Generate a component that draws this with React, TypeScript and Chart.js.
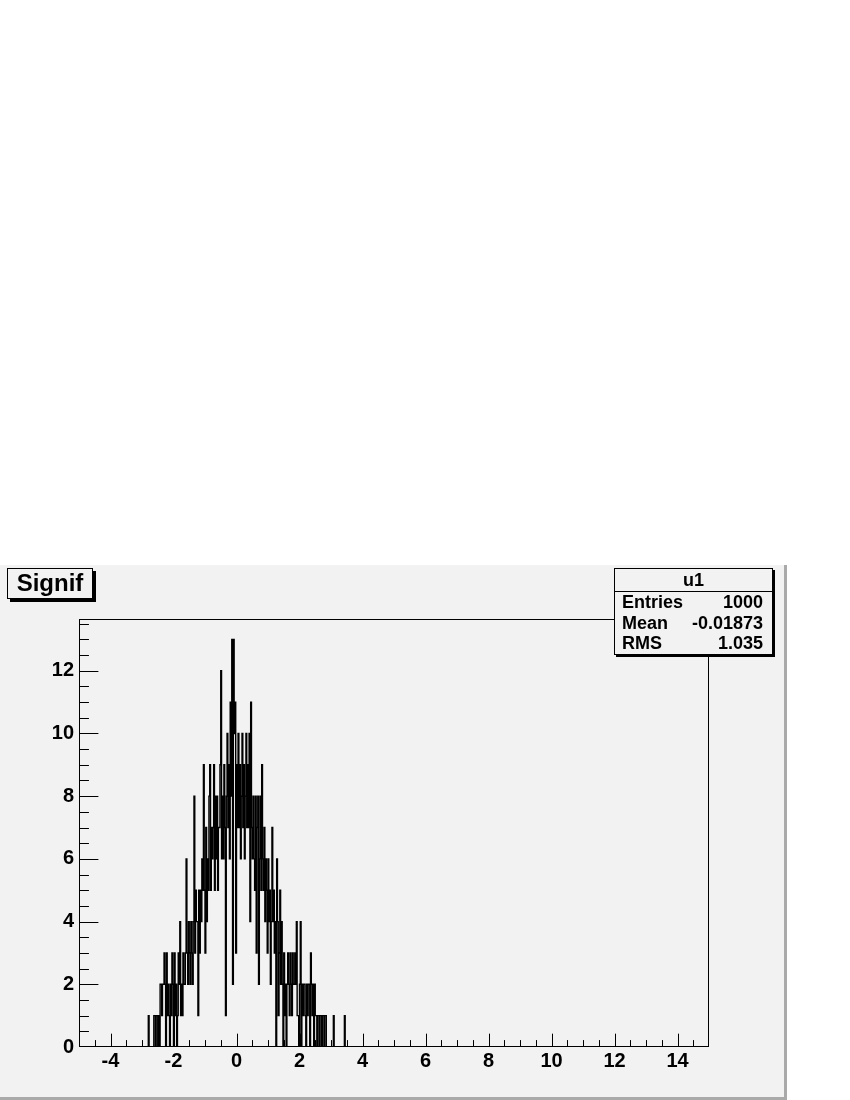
import React, { useEffect, useRef } from "react";
import { Chart, registerables } from "chart.js";

Chart.register(...registerables);

// ---- data ----
const histTitle = "Signif";
const histName = "u1";
const statsLabels = ["Entries", "Mean", "RMS"];
const statsValues = ["1000", "-0.01873", "1.035"];

const X_MIN = -5;
const X_MAX = 15;
const Y_MAX = 13.65;
const BIN_START = -2.85;
const BIN_WIDTH = 0.025;

// bin contents, 4 bins per row (0.1 units per row), starting at BIN_START
const binContents: number[] = [
  0, 0, 1, 0,
  0, 0, 0, 0,
  0, 1, 1, 0,
  1, 1, 0, 1,
  0, 2, 2, 1,
  2, 2, 3, 2,
  0, 3, 1, 2,
  1, 0, 2, 1,
  3, 2, 0, 3,
  1, 2, 0, 1,
  3, 2, 4, 1,
  2, 1, 3, 2,
  2, 3, 6, 3,
  2, 4, 3, 2,
  4, 3, 2, 4,
  8, 3, 5, 4,
  4, 1, 5, 3,
  5, 4, 6, 5,
  9, 5, 3, 7,
  4, 6, 5, 8,
  9, 5, 7, 6,
  7, 9, 5, 8,
  6, 8, 5, 7,
  7, 9, 12, 6,
  8, 6, 9, 7,
  1, 8, 10, 7,
  9, 6, 11, 8,
  13, 2, 13, 10,
  11, 3, 9, 7,
  10, 7, 9, 6,
  8, 10, 7, 9,
  6, 8, 10, 7,
  9, 7, 10, 4,
  11, 7, 6, 8,
  6, 5, 8, 3,
  7, 8, 2, 6,
  8, 5, 9, 6,
  5, 7, 4, 6,
  5, 3, 6, 4,
  5, 2, 4, 7,
  4, 5, 3, 4,
  0, 6, 4, 1,
  3, 5, 2, 4,
  2, 0, 3, 1,
  2, 0, 2, 3,
  2, 1, 3, 2,
  1, 3, 2, 2,
  3, 2, 4, 1,
  1, 0, 2, 4,
  0, 2, 1, 2,
  2, 1, 0, 2,
  1, 2, 2, 0,
  3, 2, 1, 2,
  0, 2, 1, 1,
  0, 1, 1, 0,
  1, 1, 0, 1,
  1, 0, 1, 1,
  0, 0, 0, 0,
  0, 0, 0, 0,
  0, 1, 0, 0,
  0, 0, 0, 0,
  0, 0, 0, 0,
  0, 0, 0, 1,
];

const xMajorTicks = [-4, -2, 0, 2, 4, 6, 8, 10, 12, 14];
const yMajorTicks = [0, 2, 4, 6, 8, 10, 12];
const X_MINOR_STEP = 0.5;
const Y_MINOR_STEP = 0.5;

const FONT = "'Liberation Sans', Arial, Helvetica, sans-serif";
const PAD_BG = "#f2f2f2";

const rootPlugin = {
  id: "rootFrame",
  beforeDraw(chart: any) {
    const ctx = chart.ctx;
    ctx.save();
    ctx.fillStyle = "#ffffff";
    ctx.fillRect(0, 0, chart.width, chart.height);
    // ROOT pad
    ctx.fillStyle = PAD_BG;
    ctx.fillRect(0, 565, 785, 532);
    ctx.fillStyle = "#aaaaaa";
    ctx.fillRect(784, 565, 3, 535);
    ctx.fillRect(0, 1097, 787, 3);
    ctx.restore();
  },
  afterDatasetsDraw(chart: any) {
    const ctx = chart.ctx;
    const { left, top, right, bottom } = chart.chartArea;
    const xs = chart.scales.x;
    const ys = chart.scales.y;
    ctx.save();
    ctx.strokeStyle = "#000";
    ctx.lineWidth = 1;
    const L = Math.round(left) + 0.5;
    const T = Math.round(top) + 0.5;
    const R = Math.round(right) - 0.5;
    const B = Math.round(bottom) - 0.5;
    ctx.strokeRect(L, T, R - L, B - T);
    ctx.beginPath();
    const h = bottom - top;
    const w = right - left;
    for (let v = X_MIN + X_MINOR_STEP; v < X_MAX - 1e-9; v += X_MINOR_STEP) {
      const major = xMajorTicks.some((t) => Math.abs(t - v) < 1e-6);
      const len = major ? 0.03 * h : 0.015 * h;
      const px = Math.round(xs.getPixelForValue(v)) + 0.5;
      ctx.moveTo(px, B);
      ctx.lineTo(px, B - len);
    }
    for (let v = Y_MINOR_STEP; v < Y_MAX; v += Y_MINOR_STEP) {
      const major = yMajorTicks.some((t) => Math.abs(t - v) < 1e-6);
      const len = major ? 0.03 * w : 0.015 * w;
      const py = Math.round(ys.getPixelForValue(v)) + 0.5;
      ctx.moveTo(L, py);
      ctx.lineTo(L + len, py);
    }
    ctx.stroke();
    ctx.restore();
  },
};

function buildPoints() {
  const pts: { x: number; y: number }[] = [{ x: X_MIN, y: 0 }];
  binContents.forEach((c, i) => {
    pts.push({ x: BIN_START + i * BIN_WIDTH, y: c });
  });
  pts.push({ x: BIN_START + binContents.length * BIN_WIDTH, y: 0 });
  pts.push({ x: X_MAX, y: 0 });
  return pts;
}

export default function App() {
  const canvasRef = useRef<HTMLCanvasElement | null>(null);

  useEffect(() => {
    const canvas = canvasRef.current;
    if (!canvas) return;
    const chart = new Chart(canvas, {
      type: "line",
      data: {
        datasets: [
          {
            label: histName,
            data: buildPoints(),
            borderColor: "#000",
            borderWidth: 1.4,
            pointRadius: 0,
            fill: false,
            stepped: "before",
            tension: 0,
          } as any,
        ],
      },
      options: {
        responsive: false,
        animation: false,
        devicePixelRatio: 1,
        layout: { padding: { left: 0, top: 619, right: 141, bottom: 0 } },
        plugins: {
          legend: { display: false },
          tooltip: { enabled: false },
          title: { display: false },
        },
        scales: {
          x: {
            type: "linear",
            min: X_MIN,
            max: X_MAX,
            grid: { display: false, drawTicks: false },
            border: { display: false },
            afterBuildTicks: (scale: any) => {
              scale.ticks = xMajorTicks.map((v) => ({ value: v }));
            },
            afterFit: (scale: any) => {
              scale.height = 53;
            },
            ticks: {
              autoSkip: false,
              maxRotation: 0,
              padding: 2,
              color: "#000",
              font: { family: FONT, size: 20, weight: "bold" },
              callback: (v: any) => String(v),
            },
          },
          y: {
            type: "linear",
            min: 0,
            max: Y_MAX,
            grid: { display: false, drawTicks: false },
            border: { display: false },
            afterBuildTicks: (scale: any) => {
              scale.ticks = yMajorTicks.map((v) => ({ value: v }));
            },
            afterFit: (scale: any) => {
              scale.width = 79;
            },
            ticks: {
              autoSkip: false,
              padding: 5,
              color: "#000",
              font: { family: FONT, size: 20, weight: "bold" },
              callback: (v: any) => String(v),
            },
          },
        },
      } as any,
      plugins: [rootPlugin],
    });
    return () => chart.destroy();
  }, []);

  return (
    <div style={{ position: "absolute", left: 0, top: 0, width: 850, height: 1100 }}>
      <canvas ref={canvasRef} width={850} height={1100} style={{ display: "block" }} />
      <div
        style={{
          position: "absolute",
          left: 7,
          top: 568,
          width: 86,
          height: 31,
          boxSizing: "border-box",
          border: "1px solid #000",
          background: PAD_BG,
          boxShadow: "3px 3px 0 #000",
          fontFamily: FONT,
          fontWeight: "bold",
          fontSize: 24,
          lineHeight: "28px",
          textAlign: "center",
          color: "#000",
        }}
      >
        {histTitle}
      </div>
      <div
        style={{
          position: "absolute",
          left: 614,
          top: 568,
          width: 159,
          height: 87,
          boxSizing: "border-box",
          border: "1px solid #000",
          background: PAD_BG,
          boxShadow: "2px 2px 0 #000",
          fontFamily: FONT,
          fontWeight: "bold",
          fontSize: 18,
          color: "#000",
        }}
      >
        <div
          style={{
            height: 22,
            lineHeight: "22px",
            textAlign: "center",
            borderBottom: "1px solid #000",
          }}
        >
          {histName}
        </div>
        {statsLabels.map((lab, i) => (
          <div
            key={lab}
            style={{
              display: "flex",
              justifyContent: "space-between",
              height: 20.5,
              lineHeight: "20.5px",
              paddingLeft: 7,
              paddingRight: 9,
            }}
          >
            <span>{lab}</span>
            <span>{statsValues[i]}</span>
          </div>
        ))}
      </div>
    </div>
  );
}
